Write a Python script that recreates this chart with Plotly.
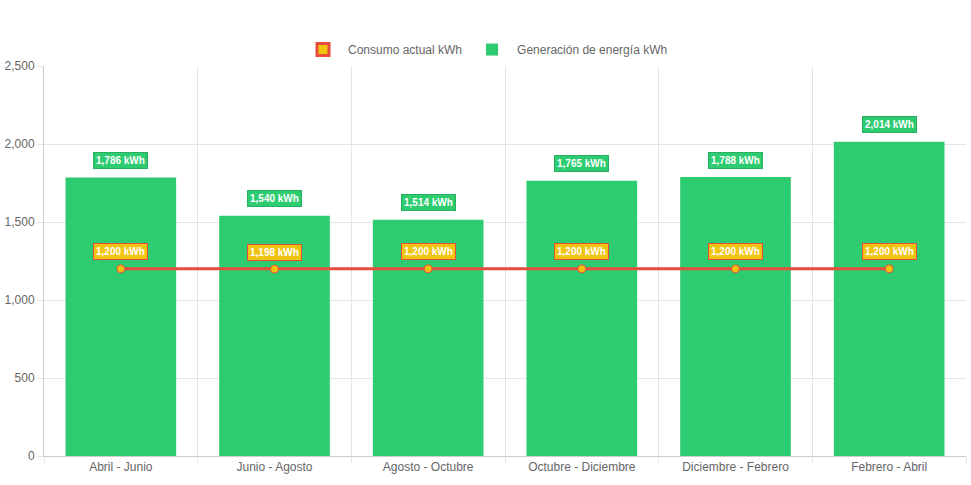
import plotly.graph_objects as go

periodos = ["Abril - Junio", "Junio - Agosto", "Agosto - Octubre",
            "Octubre - Diciembre", "Diciembre - Febrero", "Febrero - Abril"]
generacion = [1786, 1540, 1514, 1765, 1788, 2014]
consumo = [1200, 1198, 1200, 1200, 1200, 1200]
y_ticks = [0, 500, 1000, 1500, 2000, 2500]

GREEN = "#2ecc71"
YELLOW = "#f1c40f"
RED = "#e74c3c"
FONT = "Liberation Sans, Arial, sans-serif"

fig = go.Figure()

# legend-only proxy for the consumption series (box style legend)
fig.add_trace(go.Bar(
    x=[periodos[0]], y=[None], name="Consumo actual kWh",
    marker=dict(color=YELLOW, line=dict(color=RED, width=3)),
    showlegend=True, hoverinfo="skip",
))

fig.add_trace(go.Bar(
    x=periodos, y=generacion, name="Generación de energía kWh",
    marker=dict(color=GREEN, line=dict(color=GREEN, width=0)),
    width=0.72, hoverinfo="skip",
))

fig.add_trace(go.Scatter(
    x=periodos, y=consumo, mode="lines+markers", name="Consumo actual kWh",
    line=dict(color=RED, width=3),
    marker=dict(size=8, color=YELLOW, line=dict(color=RED, width=1)),
    showlegend=False, hoverinfo="skip",
))

annotations = []
for p, g in zip(periodos, generacion):
    annotations.append(dict(
        x=p, y=g, xref="x", yref="y", text=f"<b>{g:,} kWh</b>",
        showarrow=False, yshift=17, yanchor="middle",
        font=dict(family=FONT, size=10, color="white"),
        bgcolor=GREEN, bordercolor="#27ae60", borderwidth=1, borderpad=2,
    ))
for p, c in zip(periodos, consumo):
    annotations.append(dict(
        x=p, y=c, xref="x", yref="y", text=f"<b>{c:,} kWh</b>",
        showarrow=False, yshift=17, yanchor="middle",
        font=dict(family=FONT, size=10, color="white"),
        bgcolor=YELLOW, bordercolor=RED, borderwidth=1, borderpad=2,
    ))

fig.update_layout(
    width=971, height=485,
    margin=dict(l=44, r=5, t=66, b=29, autoexpand=False),
    paper_bgcolor="white", plot_bgcolor="white",
    font=dict(family=FONT, size=12, color="#666666"),
    barmode="overlay",
    legend=dict(orientation="h", xref="container", x=0.5, xanchor="center",
                y=1.005, yanchor="bottom",
                font=dict(family=FONT, size=12, color="#666666"),
                traceorder="normal", itemwidth=40),
    annotations=annotations,
    hovermode=False,
)

fig.update_xaxes(
    type="category", range=[-0.5, 5.5], tickson="boundaries",
    showgrid=True, gridcolor="#e5e5e5", gridwidth=1,
    ticks="outside", ticklen=6, tickcolor="#e5e5e5",
    showline=True, linecolor="#cccccc", linewidth=1,
    tickfont=dict(family=FONT, size=12, color="#666666"),
    automargin=False,
)
fig.update_yaxes(
    range=[0, 2500], tickvals=y_ticks, tickformat=",",
    showgrid=True, gridcolor="#e5e5e5", gridwidth=1,
    ticks="outside", ticklen=6, tickcolor="#e5e5e5",
    showline=True, linecolor="#cccccc", linewidth=1,
    zeroline=False,
    tickfont=dict(family=FONT, size=12, color="#666666"),
    automargin=False,
)

fig.write_html("out.html", config={"displayModeBar": False},
               post_script="document.body.style.margin='0px';document.body.style.overflow='hidden';")
